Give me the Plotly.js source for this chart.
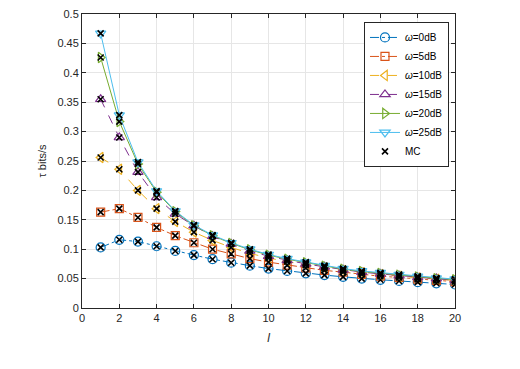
<!DOCTYPE html>
<html>
<head>
<meta charset="utf-8">
<script src="https://cdn.plot.ly/plotly-3.0.1.min.js"></script>
<style>
  html, body { margin: 0; padding: 0; background: #fff; }
  #plotArea { width: 520px; height: 369px; }
</style>
</head>
<body>
<div id="plotArea"></div>
<script>
// number of hops l
var l = [1,2,3,4,5,6,7,8,9,10,11,12,13,14,15,16,17,18,19,20];

// throughput tau (bits/s) for each omega
var w0  = [0.103,0.116,0.113,0.105,0.097,0.090,0.083,0.077,0.072,0.067,0.063,0.059,0.056,0.053,0.050,0.048,0.046,0.044,0.042,0.040];
var w5  = [0.163,0.169,0.154,0.137,0.123,0.111,0.100,0.092,0.084,0.078,0.073,0.068,0.064,0.061,0.057,0.054,0.052,0.049,0.047,0.045];
var w10 = [0.256,0.236,0.200,0.169,0.147,0.129,0.115,0.103,0.093,0.085,0.079,0.073,0.068,0.064,0.060,0.057,0.054,0.051,0.049,0.047];
var w15 = [0.355,0.290,0.231,0.188,0.160,0.140,0.122,0.109,0.097,0.088,0.081,0.075,0.070,0.065,0.061,0.058,0.055,0.052,0.050,0.047];
var w20 = [0.426,0.317,0.245,0.197,0.164,0.140,0.123,0.110,0.099,0.090,0.083,0.077,0.071,0.066,0.062,0.059,0.056,0.053,0.050,0.048];
var w25 = [0.467,0.328,0.248,0.199,0.165,0.141,0.124,0.111,0.100,0.091,0.084,0.078,0.072,0.067,0.063,0.060,0.057,0.054,0.051,0.049];

var names   = ['0dB','5dB','10dB','15dB','20dB','25dB'];
var series  = [w0, w5, w10, w15, w20, w25];
var colors  = ['#0072BD','#D95319','#EDB120','#7E2F8E','#77AC30','#4DBEEE'];
var symbols = ['circle-open','square-open','triangle-left-open','triangle-up-open','triangle-right-open','triangle-down-open'];
var dashes  = ['dashdot','dashdot','dash','dash','solid','solid'];
var sizes   = [9,8,9,9,9,9];

var traces = [];
for (var i = 0; i < series.length; i++) {
  traces.push({
    x: l, y: series[i],
    type: 'scatter', mode: 'lines+markers',
    name: '<i>ω</i>=' + names[i],
    line: {color: colors[i], width: 1, dash: dashes[i]},
    marker: {symbol: symbols[i], size: sizes[i], color: colors[i], line: {width: 1.2, color: colors[i]}}
  });
}

// Monte Carlo points sit on the analytical curves
var mcX = [], mcY = [];
for (var i = 0; i < series.length; i++) {
  mcX = mcX.concat(l);
  mcY = mcY.concat(series[i]);
}
traces.push({
  x: mcX, y: mcY,
  type: 'scatter', mode: 'markers',
  name: 'MC',
  marker: {symbol: 'x-thin-open', size: 6, color: '#000', line: {width: 1.6, color: '#000'}}
});

var axisStyle = {
  showline: true, mirror: 'ticks', linecolor: '#262626', linewidth: 1,
  ticks: 'inside', ticklen: 4, tickcolor: '#262626',
  showgrid: true, gridcolor: '#e6e6e6', gridwidth: 1,
  zeroline: false,
  tickfont: {family: 'Liberation Sans, Arial, sans-serif', size: 11, color: '#262626'}
};

var layout = {
  width: 520, height: 369,
  margin: {l: 82, r: 65, t: 14, b: 61},
  paper_bgcolor: '#fff', plot_bgcolor: '#fff',
  showlegend: true,
  xaxis: Object.assign({}, axisStyle, {
    range: [0, 20], dtick: 2, tick0: 0,
    title: {text: '<i>l</i>', standoff: 10, font: {family: 'Liberation Sans, Arial, sans-serif', size: 12, color: '#262626'}}
  }),
  yaxis: Object.assign({}, axisStyle, {
    range: [0, 0.5], dtick: 0.05, tick0: 0,
    title: {text: 'τ bits/s', standoff: 8, font: {family: 'Liberation Sans, Arial, sans-serif', size: 11, color: '#262626'}}
  }),
  legend: {
    x: 0.756, y: 0.973, xanchor: 'left', yanchor: 'top',
    bgcolor: '#fff', bordercolor: '#262626', borderwidth: 1,
    font: {family: 'Liberation Sans, Arial, sans-serif', size: 10, color: '#000'},
    tracegroupgap: 0, itemwidth: 30
  }
};

Plotly.newPlot('plotArea', traces, layout, {displayModeBar: false, staticPlot: true});
</script>
</body>
</html>
